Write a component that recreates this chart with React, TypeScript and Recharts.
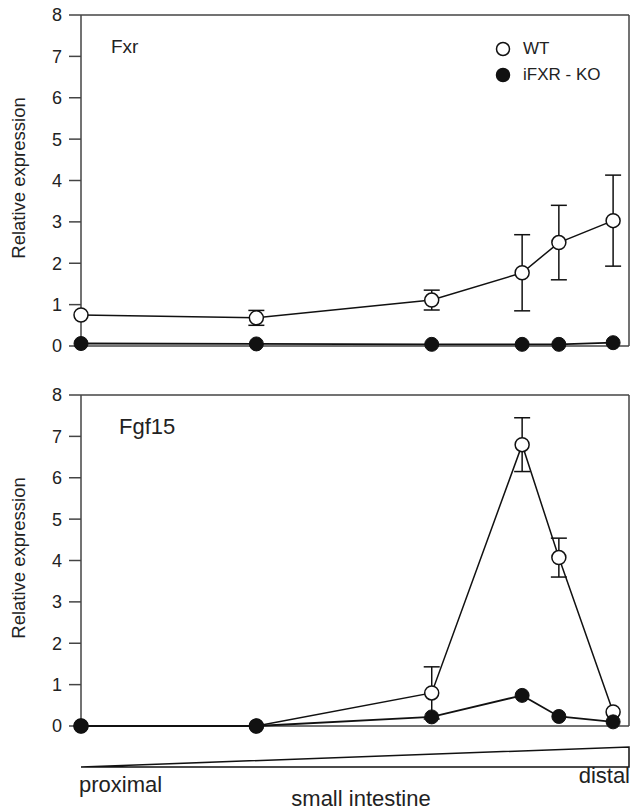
import { LineChart, Line, XAxis, YAxis, ReferenceLine, ErrorBar } from "recharts";

// position along the small intestine (0 = proximal, 100 = distal)
const positions = [0, 32, 64, 80.5, 87.2, 97.1];

const fxrWT = [0.75, 0.68, 1.11, 1.77, 2.5, 3.03];
const fxrWTErr = [0, 0.18, 0.24, 0.92, 0.9, 1.1];
const fxrKO = [0.06, 0.05, 0.04, 0.04, 0.04, 0.08];

const fgfWT = [0, 0, 0.8, 6.8, 4.07, 0.34];
const fgfWTErr = [0, 0, 0.63, 0.65, 0.47, 0];
const fgfKO = [0, 0, 0.22, 0.74, 0.23, 0.1];

const yTicks = [0, 1, 2, 3, 4, 5, 6, 7, 8];

const FONT = "'Liberation Sans', Arial, sans-serif";
const INK = "#111";
const AXIS = "#444";
const TEXT = "#222";

function buildRows(wt: number[], wtErr: number[], ko: number[]) {
  return positions.map((pos, i) => ({ pos, wt: wt[i], wtErr: wtErr[i], ko: ko[i] }));
}

function LegendBox() {
  const item = (filled: boolean, label: string) => (
    <div style={{ display: "flex", alignItems: "center", height: 26 }}>
      <svg width={16} height={16} style={{ marginRight: 12 }}>
        <circle cx={8} cy={8} r={6.5} fill={filled ? INK : "#fff"} stroke={INK} strokeWidth={1.5} />
      </svg>
      <span style={{ fontFamily: FONT, fontSize: 17, color: TEXT }}>{label}</span>
    </div>
  );
  return (
    <div style={{ position: "absolute", left: 495, top: 36 }}>
      {item(false, "WT")}
      {item(true, "iFXR - KO")}
    </div>
  );
}

function Panel({ rows, title, titleSize, legend }: { rows: any[]; title: string; titleSize: number; legend?: boolean }) {
  return (
    <div style={{ position: "relative", width: 633, height: 380 }}>
      <LineChart width={633} height={380} data={rows} margin={{ top: 15, right: 4, bottom: 34, left: 0 }}>
        <XAxis dataKey="pos" type="number" domain={[0, 100]} hide />
        <YAxis
          domain={[0, 8]}
          ticks={yTicks}
          width={81}
          tickSize={12}
          tickMargin={7}
          stroke={AXIS}
          strokeWidth={1.5}
          tick={{ fontFamily: FONT, fontSize: 18, fill: TEXT }}
        />
        <ReferenceLine y={0} stroke={AXIS} strokeWidth={1.5} />
        <ReferenceLine y={8} stroke={AXIS} strokeWidth={1.5} />
        <ReferenceLine x={100} stroke={AXIS} strokeWidth={1.5} />
        <Line
          dataKey="wt"
          name="WT"
          stroke={INK}
          strokeWidth={1.5}
          dot={{ r: 7, fill: "#fff", stroke: INK, strokeWidth: 1.5 }}
          isAnimationActive={false}
        >
          <ErrorBar dataKey="wtErr" width={8} stroke={INK} strokeWidth={1.5} direction="y" />
        </Line>
        <Line
          dataKey="ko"
          name="iFXR-KO"
          stroke={INK}
          strokeWidth={1.8}
          dot={{ r: 7, fill: INK, stroke: INK, strokeWidth: 1 }}
          isAnimationActive={false}
        />
      </LineChart>
      {legend && <LegendBox />}
      <div
        style={{
          position: "absolute",
          left: 19,
          top: 178,
          transform: "translate(-50%, -50%) rotate(-90deg)",
          fontFamily: FONT,
          fontSize: 18.5,
          color: TEXT,
          whiteSpace: "nowrap",
        }}
      >
        Relative expression
      </div>
      <div
        style={{
          position: "absolute",
          left: title === "Fxr" ? 111 : 119,
          top: 47,
          transform: "translateY(-50%)",
          fontFamily: FONT,
          fontSize: titleSize,
          color: TEXT,
        }}
      >
        {title}
      </div>
    </div>
  );
}

export default function App() {
  return (
    <div style={{ position: "absolute", left: 0, top: 0, width: 633, height: 810, background: "#fff" }}>
      <div style={{ position: "absolute", left: 0, top: 0 }}>
        <Panel rows={buildRows(fxrWT, fxrWTErr, fxrKO)} title="Fxr" titleSize={19} legend />
      </div>
      <div style={{ position: "absolute", left: 0, top: 380 }}>
        <Panel rows={buildRows(fgfWT, fgfWTErr, fgfKO)} title="Fgf15" titleSize={22} />
      </div>
      <svg style={{ position: "absolute", left: 0, top: 0 }} width={633} height={810} pointerEvents="none">
        <polygon points="81,767 629,747 629,767" fill="none" stroke={INK} strokeWidth={1.5} />
      </svg>
      <div style={{ position: "absolute", left: 79, top: 772, fontFamily: FONT, fontSize: 22, color: TEXT }}>
        proximal
      </div>
      <div style={{ position: "absolute", right: 3, top: 763, fontFamily: FONT, fontSize: 22, color: TEXT }}>
        distal
      </div>
      <div
        style={{
          position: "absolute",
          left: 361,
          top: 786,
          transform: "translateX(-50%)",
          fontFamily: FONT,
          fontSize: 22,
          color: TEXT,
          whiteSpace: "nowrap",
        }}
      >
        small intestine
      </div>
    </div>
  );
}
